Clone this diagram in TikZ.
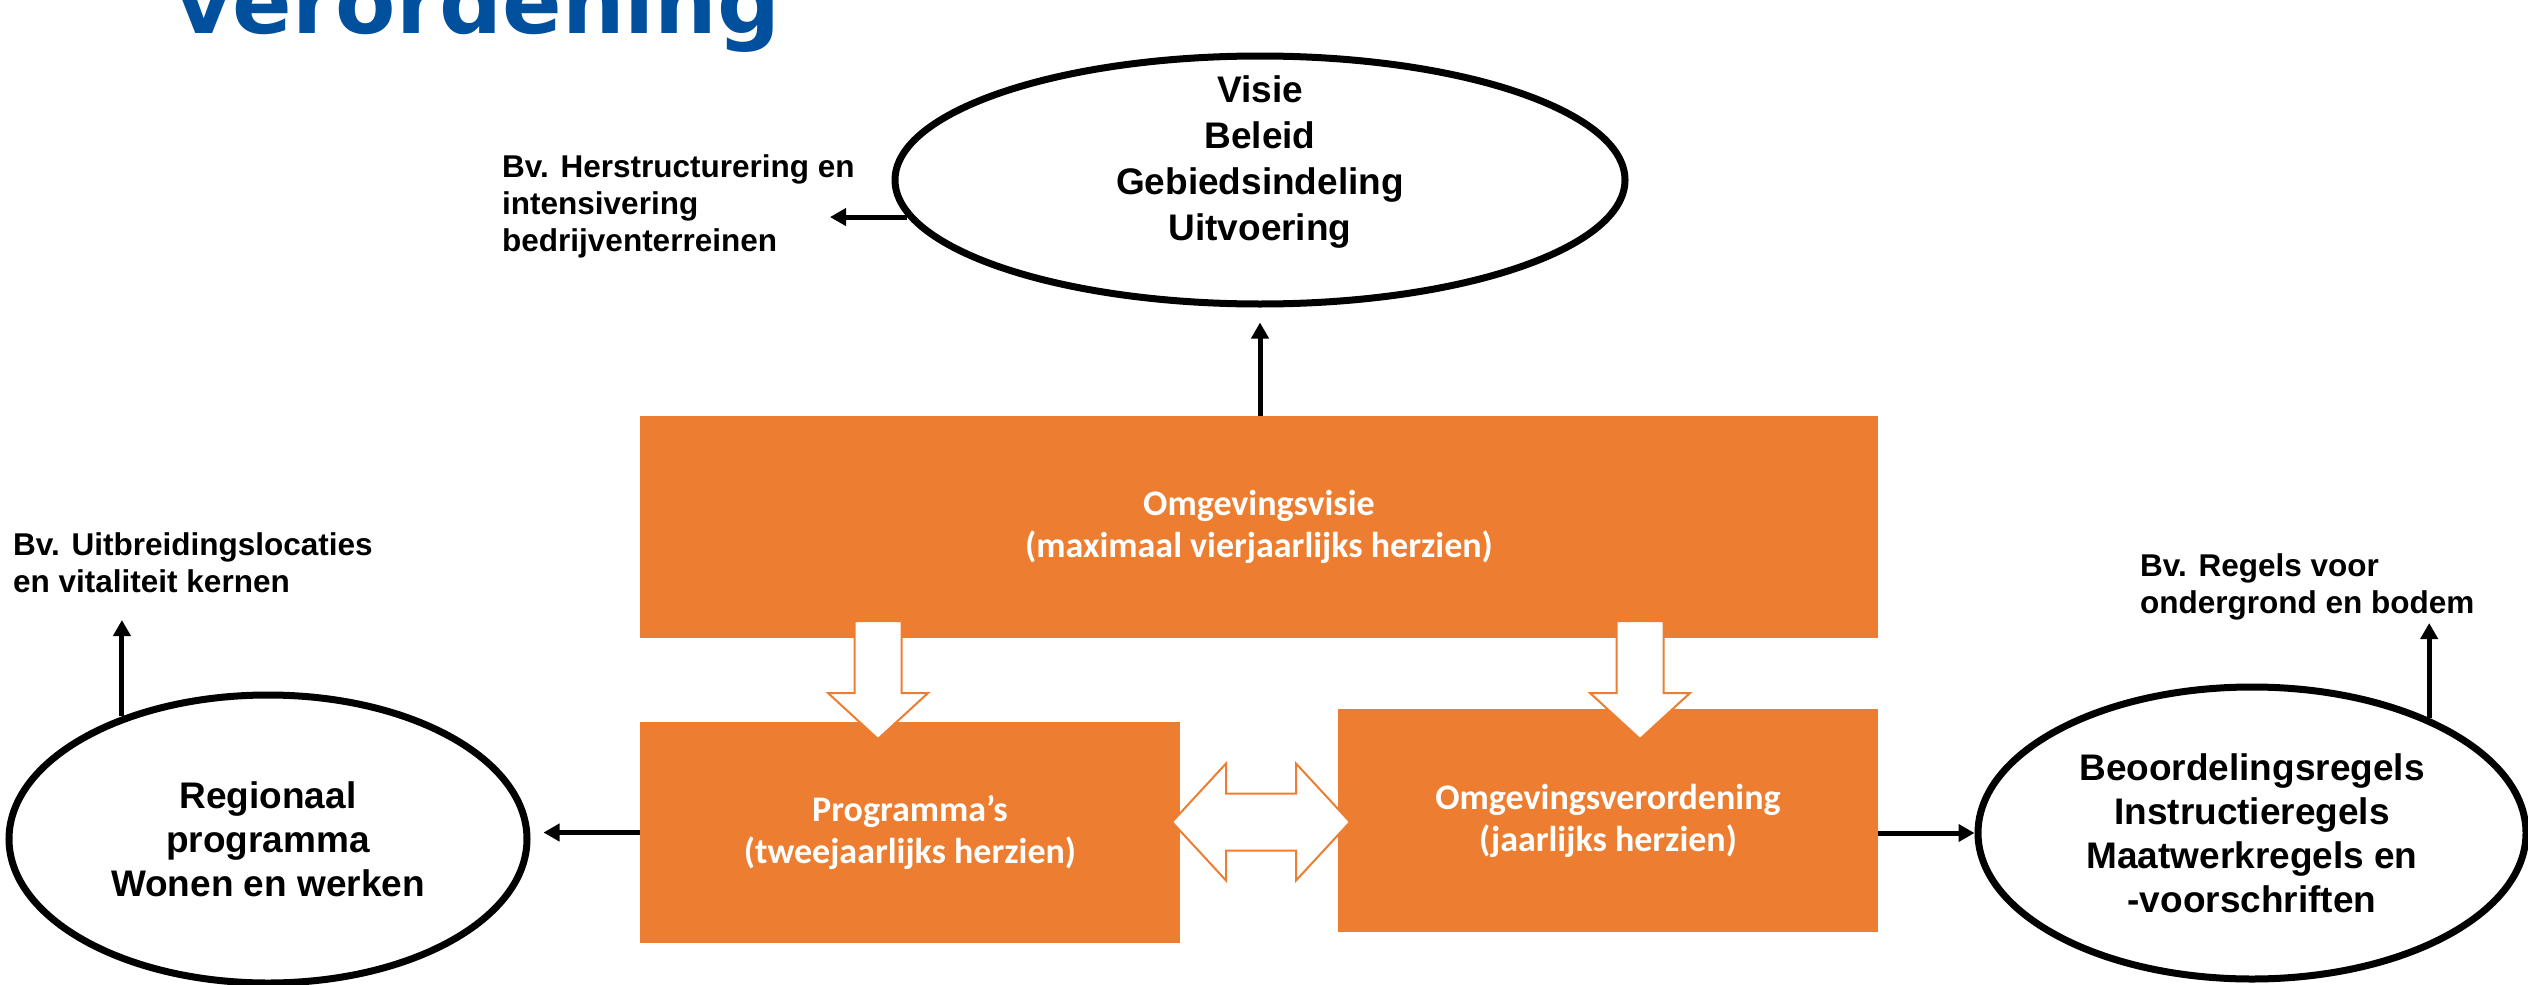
\documentclass[tikz,border=0pt]{standalone}
\usepackage{fontspec}
\setmainfont{Liberation Sans}
\newfontfamily\boxfont{Carlito}
\newfontfamily\titlefont{DejaVu Sans}
\usetikzlibrary{arrows.meta,positioning,shapes.geometric}
\definecolor{oranje}{RGB}{237,125,49}
\definecolor{titelblauw}{RGB}{0,80,158}

\begin{document}
\begin{tikzpicture}[x=1pt,y=-1pt,
  oval/.style={ellipse,draw,line width=7pt,align=center,inner sep=0pt,
    font=\fontsize{37}{44}\selectfont\bfseries},
  blok/.style={rectangle,fill=oranje,align=center,inner sep=0pt,text=white,
    font=\boxfont\fontsize{36}{42}\selectfont\bfseries},
  note/.style={anchor=west,align=left,inner sep=0pt,
    font=\fontsize{31.5}{37}\selectfont\bfseries},
  conn/.style={line width=5pt,-{Triangle[width=17pt,length=16pt]}},
  blokpijl/.style={fill=white,draw=oranje,line width=2pt,line join=miter}]

  \useasboundingbox (0,0) rectangle (2528,985);
  \clip (0,0) rectangle (2528,985);

  % Title (cut off at the top)
  \node[anchor=base west,inner sep=0pt,text=titelblauw,
    font=\titlefont\fontsize{88}{100}\selectfont\bfseries] (titel) at (175,33) {verordening};

  % Ellipses
  \node[oval,minimum width=730pt,minimum height=248pt] (visie) at (1260,180) {};
  \node[align=center,inner sep=0pt,font=\fontsize{37}{46}\selectfont\bfseries]
    (visietekst) at (1260,162) {Visie\\Beleid\\Gebiedsindeling\\Uitvoering};
  \node[oval,minimum width=518pt,minimum height=288pt] (regio) at (268,839)
    {Regionaal\\programma\\Wonen en werken};
  \node[oval,minimum width=548pt,minimum height=292pt] (regels) at (2252,833)
    {Beoordelingsregels\\Instructieregels\\Maatwerkregels en\\-voorschriften};

  % Orange boxes
  \node[blok,minimum width=1238pt,minimum height=222pt] (omgvisie) at (1259,527)
    {Omgevingsvisie\\(maximaal vierjaarlijks herzien)};
  \node[blok,minimum width=540pt,minimum height=221pt] (prog) at (910,832.5)
    {Programma’s\\(tweejaarlijks herzien)};
  \node[blok,minimum width=540pt,minimum height=223pt] (verord) at (1608,820.5)
    {Omgevingsverordening\\(jaarlijks herzien)};

  % Examples
  \node[note] (herstruct) at (502,206) {Bv. Herstructurering en\\intensivering\\bedrijventerreinen};
  \node[note] (uitbreid) at (13,563) {Bv. Uitbreidingslocaties\\en vitaliteit kernen};
  \node[note] (ondergrond) at (2140,587) {Bv. Regels voor\\ondergrond en bodem};

  \coordinate (tipherstruct) at (830,218);
  \coordinate (tipuitbreid) at (124,620);
  \coordinate (tipondergrond) at (2426,623);

  % Block arrows
  \foreach \x in {878,1640}
    \draw[blokpijl] (\x-23.5,621) -- ++(47,0) -- ++(0,72) -- ++(26.5,0)
      -- (\x,739) -- ++(-50,-46) -- ++(26.5,0) -- cycle;
  \draw[blokpijl] (1172,822) -- (1226,763.5) -- (1226,793.5) -- (1296,793.5)
    -- (1296,763.5) -- (1350,822) -- (1296,880.5) -- (1296,850.5)
    -- (1226,850.5) -- (1226,880.5) -- cycle;

  % Connectors
  \draw[conn] (visie.south |- omgvisie.north) -- ([yshift=-15pt]visie.south);
  \draw[conn] (visie.186) -- (visie.186 -| tipherstruct);
  \draw[conn] (regio.140) -- (regio.140 |- tipuitbreid);
  \draw[conn] (regels.33) -- (regels.33 |- tipondergrond);
  \draw[conn] (prog.west) -- ([xshift=13pt]prog.west -| regio.east);
  \draw[conn] (verord.east |- regels.west) -- (regels.west);
\end{tikzpicture}
\end{document}
